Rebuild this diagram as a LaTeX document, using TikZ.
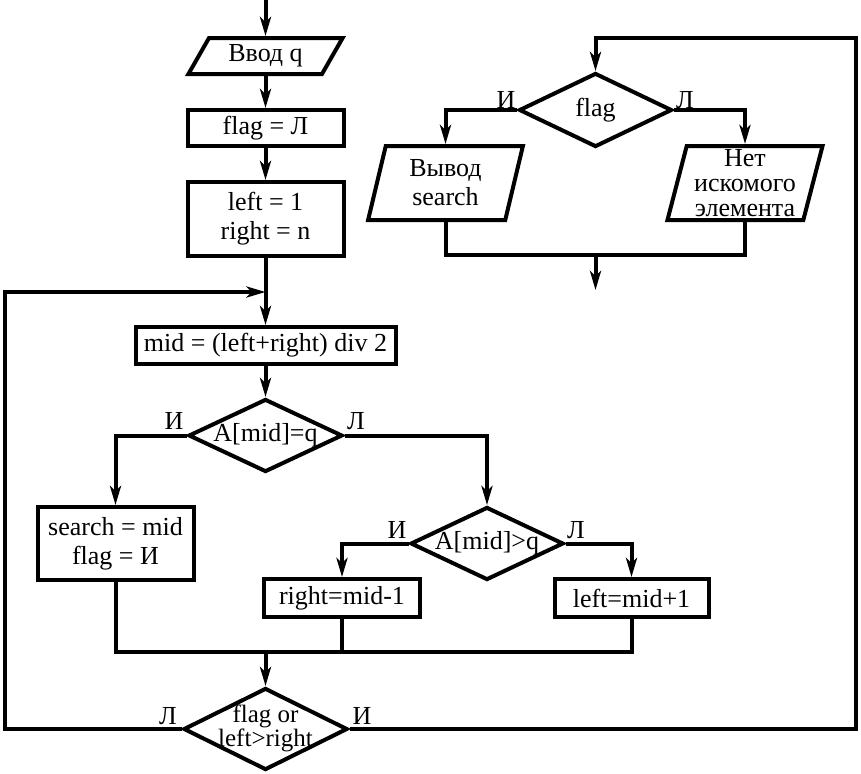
\documentclass[tikz,border=0pt]{standalone}
\usepackage{fontspec}
\setmainfont{Liberation Serif}
\usetikzlibrary{shapes.geometric,arrows.meta}
\newcommand\mytightfont{\fontsize{12.5}{12}\selectfont\lineskiplimit=-20pt\relax}
\begin{document}
\begin{tikzpicture}[x=0.5pt,y=-0.5pt, line width=2pt,
  every node/.style={font=\fontsize{13}{14.5}\selectfont},
  box/.style={draw, rectangle, inner sep=0pt, align=center},
  io/.style={draw, trapezium, trapezium stretches=true, inner sep=0pt, align=center},
  dia/.style={draw, diamond, inner sep=0pt},
  lbl/.style={inner sep=0pt},
  arr/.style={-{Stealth[length=9.5pt,width=5.5pt,inset=2.5pt]}}]
\useasboundingbox (0,0) rectangle (861,773);

% left algorithm
\coordinate (top) at (265.5,0);
\node[io, trapezium left angle=59, trapezium right angle=121, minimum width=77.5pt, minimum height=18pt] (in) at (265.5,56) {Ввод q};
\node[box, minimum width=78pt, minimum height=18pt] (fL) at (265.5,128) {flag = Л};
\node[box, minimum width=78pt, minimum height=37pt] (lr) at (265.5,219) {left = 1\\right = n};
\node[box, minimum width=130pt, minimum height=18.5pt] (mid) at (265.5,345.5) {mid = (left+right) div 2};
\node[dia, minimum width=77pt, minimum height=36.5pt] (d1) at (265.5,435.5) {\makebox[0pt]{A[mid]=q}};
\node[box, minimum width=78pt, minimum height=36.5pt] (srch) at (115.5,543.5) {search = mid\\flag = И};
\node[dia, minimum width=76.5pt, minimum height=36.5pt] (d2) at (487,543.5) {\makebox[0pt]{A[mid]>q}};
\node[box, minimum width=78pt, minimum height=19pt] (rm) at (342,598) {right=mid-1};
\node[box, minimum width=77pt, minimum height=19pt] (lp) at (631.5,598) {left=mid+1};
\node[dia, minimum width=82pt, minimum height=41pt] (d3) at (265.5,729) {};
\node[inner sep=0pt, align=center, font=\mytightfont] (d3t) at (265.5,728) {flag or\\left>right};

% right part
\node[dia, minimum width=76.5pt, minimum height=37pt] (fl) at (595.5,110) {\makebox[0pt]{flag}};
\node[io, trapezium left angle=77, trapezium right angle=103, minimum width=77.5pt, minimum height=37pt] (out1) at (445.5,183) {Вывод\\search};
\node[io, trapezium left angle=76, trapezium right angle=104, minimum width=78pt, minimum height=37pt, font=\fontsize{13}{12.5}\selectfont] (out2) at (745,183) {Нет\\искомого\\элемента};

% labels
\node[lbl] (l1) at (174,421) {И};
\node[lbl] (l2) at (356,421) {Л};
\node[lbl] (l3) at (397,530) {И};
\node[lbl] (l4) at (576,530) {Л};
\node[lbl] (l5) at (168,716) {Л};
\node[lbl] (l6) at (362,716) {И};
\node[lbl] (l7) at (506,100) {И};
\node[lbl] (l8) at (685,100) {Л};

% connectors
\draw[arr] (top) -- (in);
\draw[arr] (in) -- (fL);
\draw[arr] (fL) -- (lr);
\draw[arr] (lr) -- (mid);
\draw[arr] (mid) -- (d1);
\draw[arr] (d1.west) -| (srch);
\draw[arr] (d1.east) -| (d2);
\draw[arr] (d2.west) -| (rm);
\draw[arr] (d2.east) -| (lp);
\coordinate (j) at (265.5,652);
\draw (srch) |- (lp |- j) -- (lp);
\draw (rm) -- (rm |- j);
\draw[arr] (j) -- (d3);
\coordinate (m) at (265.5,292);
\coordinate (lx) at (5,292);
\draw[arr] (d3.west) -| (lx) -- (m);
\coordinate (rx) at (856,38);
\draw[arr] (d3.east) -| (rx) -| (fl);
\draw[arr] (fl.west) -| (out1);
\draw[arr] (fl.east) -| (out2);
\coordinate (k) at (595.5,255);
\draw (out1) |- (k) -| (out2);
\coordinate (e) at (595.5,290);
\draw[arr] (k) -- (e);
\end{tikzpicture}
\end{document}
